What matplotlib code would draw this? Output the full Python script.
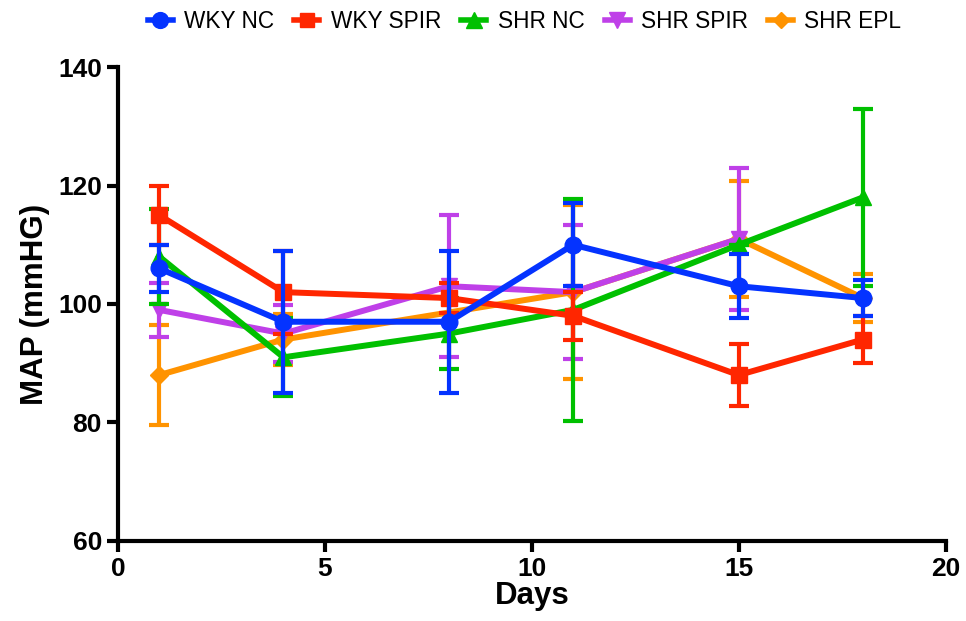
import numpy as np
import matplotlib
matplotlib.use("Agg")
import matplotlib.pyplot as plt
from matplotlib.lines import Line2D

plt.rcParams['font.family'] = ['Liberation Sans', 'DejaVu Sans']

# mean +/- error, per group
wky_nc_days = [1, 4, 8, 11, 15, 18]
wky_nc_mean = [106, 97, 97, 110, 103, 101]
wky_nc_err = [4, 12, 12, 7, 5.4, 3]

wky_spir_days = [1, 4, 8, 11, 15, 18]
wky_spir_mean = [115, 102, 101, 98, 88, 94]
wky_spir_err = [5, 7, 2.5, 4, 5.2, 4]

shr_nc_days = [1, 4, 8, 11, 15, 18]
shr_nc_mean = [108, 91, 95, 99, 110, 118]
shr_nc_err = [8, 6.6, 6, 18.7, 0, 15]

shr_spir_days = [1, 4, 8, 11, 15]
shr_spir_mean = [99, 95, 103, 102, 111]
shr_spir_err = [4.5, 4.8, 12, 11.3, 12]

shr_epl_days = [1, 4, 11, 15, 18]
shr_epl_mean = [88, 94, 102, 111, 101]
shr_epl_err = [8.5, 4.3, 14.7, 9.8, 4]

series = [
    ("WKY NC", wky_nc_days, wky_nc_mean, wky_nc_err, "#0433FF", "o", 12),
    ("WKY SPIR", wky_spir_days, wky_spir_mean, wky_spir_err, "#FF2600", "s", 11),
    ("SHR NC", shr_nc_days, shr_nc_mean, shr_nc_err, "#00C000", "^", 12),
    ("SHR SPIR", shr_spir_days, shr_spir_mean, shr_spir_err, "#BF40E8", "v", 12),
    ("SHR EPL", shr_epl_days, shr_epl_mean, shr_epl_err, "#FF9300", "D", 9),
]
zorders = {"WKY NC": 10, "WKY SPIR": 8, "SHR NC": 6, "SHR SPIR": 4, "SHR EPL": 2}

fig = plt.figure(figsize=(9.66, 6.21), dpi=100)
ax = fig.add_axes([0.122, 0.129, 0.857, 0.763])

handles = []
for label, x, y, e, c, m, ms in series:
    ax.errorbar(x, y, yerr=e, color=c, marker=m, markersize=ms, lw=4.3,
                elinewidth=3, capsize=7, capthick=3, zorder=zorders[label])
    handles.append(Line2D([], [], color=c, marker=m, markersize=ms * 0.95,
                          lw=4, label=label))

ax.set_xlim(0, 20)
ax.set_ylim(60, 140)
ax.set_xticks([0, 5, 10, 15, 20])
ax.set_yticks([60, 80, 100, 120, 140])
for s in ["top", "right"]:
    ax.spines[s].set_visible(False)
for s in ["left", "bottom"]:
    ax.spines[s].set_linewidth(3)
ax.tick_params(width=3, length=8, labelsize=19)
for t in ax.get_xticklabels() + ax.get_yticklabels():
    t.set_fontweight("bold")
ax.set_xlabel("Days", fontsize=22.5, fontweight="bold", labelpad=0)
ax.set_ylabel("MAP (mmHG)", fontsize=22.5, fontweight="bold", labelpad=6)

fig.legend(handles=handles, loc="center", ncol=5, frameon=False,
           fontsize=16.3, bbox_to_anchor=(0.543, 0.966), handlelength=1.1,
           columnspacing=0.9, handletextpad=0.5)

fig.savefig("out.png", dpi=100)
